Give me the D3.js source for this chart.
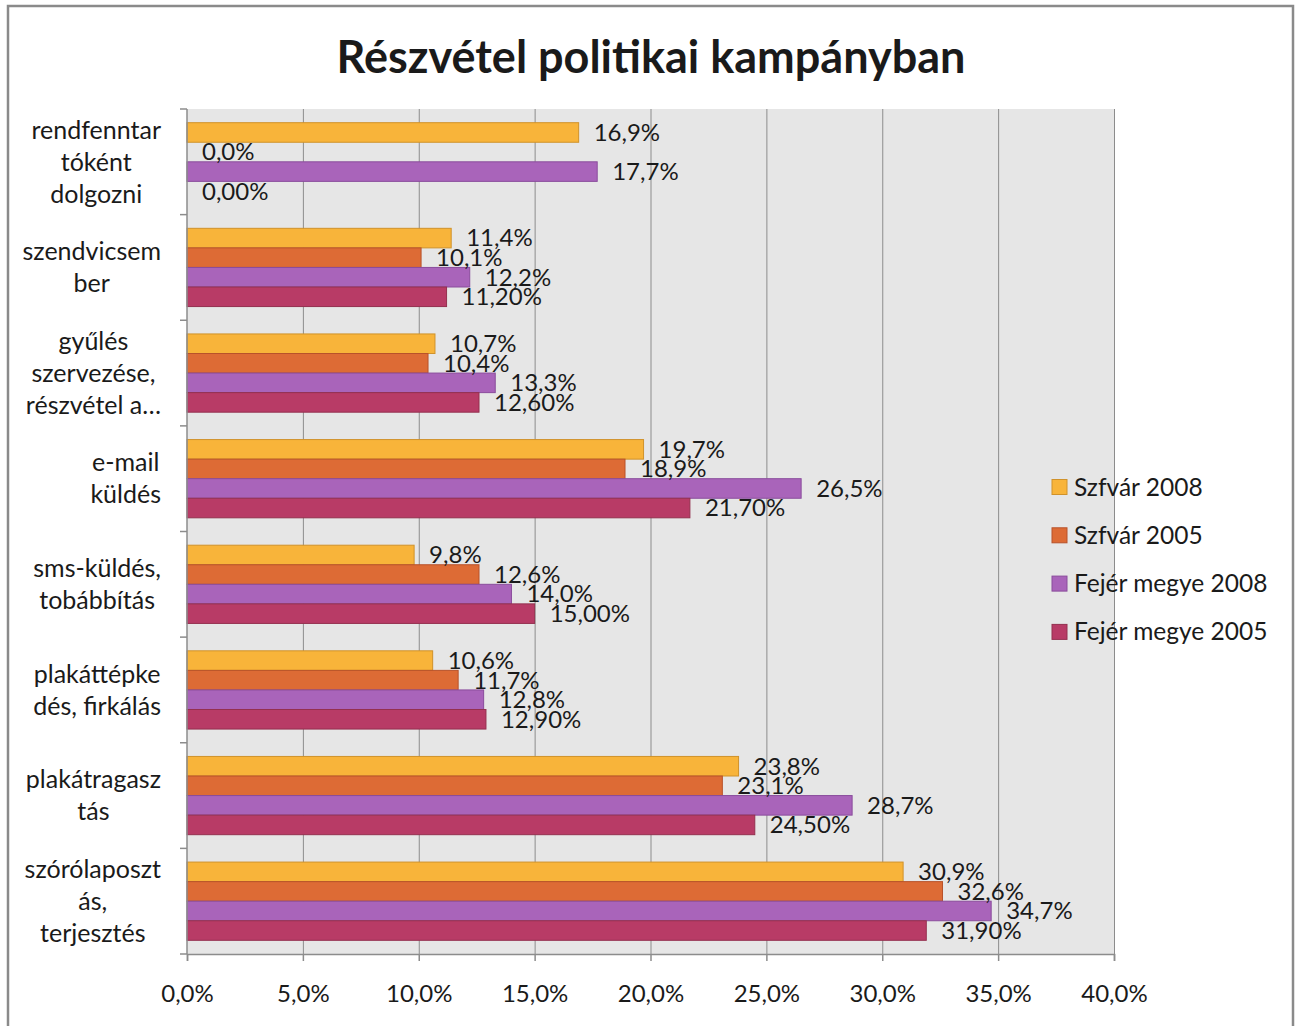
<!DOCTYPE html>
<html>
<head>
<meta charset="utf-8">
<script src="https://cdn.jsdelivr.net/npm/d3@7"></script>
<style>
    body { margin: 0; background: #fff; }
    text { font-family: Lato, "Open Sans", sans-serif; fill: #1a1a1a; }
</style>
</head>
<body>
<div id="chart"></div>
<script>
    // categories, top to bottom, already split the way the labels wrap
    const categories = [
        ["rendfenntar", "tóként", "dolgozni"],
        ["szendvicsem", "ber"],
        ["gyűlés", "szervezése,", "részvétel a…"],
        ["e-mail", "küldés"],
        ["sms-küldés,", "tobábbítás"],
        ["plakáttépke", "dés, firkálás"],
        ["plakátragasz", "tás"],
        ["szórólaposzt", "ás,", "terjesztés"]
    ];
    const seriesNames = ["Szfvár 2008", "Szfvár 2005", "Fejér megye 2008", "Fejér megye 2005"];
    const szfvar2008 = [16.9, 11.4, 10.7, 19.7, 9.8, 10.6, 23.8, 30.9];
    const szfvar2005 = [0.0, 10.1, 10.4, 18.9, 12.6, 11.7, 23.1, 32.6];
    const fejer2008 = [17.7, 12.2, 13.3, 26.5, 14.0, 12.8, 28.7, 34.7];
    const fejer2005 = [0.00, 11.20, 12.60, 21.70, 15.00, 12.90, 24.50, 31.90];
    const labelDecimals = [1, 1, 1, 2];
    const xTicks = [0, 5, 10, 15, 20, 25, 30, 35, 40];

    const seriesValues = [szfvar2008, szfvar2005, fejer2008, fejer2005];
    const fills = ["#f8b43a", "#dd6b35", "#a964ba", "#b83b66"];
    const strokes = ["#d0922a", "#b8522a", "#8a4c9c", "#94304f"];

    const width = 1298, height = 1026;
    const margin = { top: 109, right: 184, bottom: 72, left: 187 };

    const svg = d3.select("#chart").append("svg")
        .attr("width", width)
        .attr("height", height);

    // outer frame
    svg.append("rect")
        .attr("x", 8).attr("y", 6)
        .attr("width", 1285).attr("height", 1040)
        .attr("fill", "#fff")
        .attr("stroke", "#8a8a8a")
        .attr("stroke-width", 2.5);

    svg.append("text")
        .attr("x", 651).attr("y", 73)
        .attr("text-anchor", "middle")
        .style("font-size", "45px")
        .style("font-weight", "bold")
        .text("Részvétel politikai kampányban");

    const x = d3.scaleLinear().domain([0, 40]).range([margin.left, width - margin.right]);
    const y = d3.scaleBand().domain(d3.range(categories.length))
        .range([margin.top, height - margin.bottom]);
    const ys = d3.scaleBand().domain(d3.range(seriesNames.length))
        .range([0, y.bandwidth()]).paddingOuter(0.7);

    // plot background
    svg.append("rect")
        .attr("x", x(0)).attr("y", y.range()[0])
        .attr("width", x(40) - x(0)).attr("height", y.range()[1] - y.range()[0])
        .attr("fill", "#e6e6e6");

    // grid
    svg.append("g")
        .attr("transform", "translate(0," + y.range()[1] + ")")
        .call(d3.axisBottom(x).tickValues(xTicks.slice(1)).tickFormat("").tickSize(-(y.range()[1] - y.range()[0])))
        .call(g => g.select(".domain").remove())
        .call(g => g.selectAll("line").attr("stroke", "#8c8c8c"));

    // bars
    seriesValues.forEach(function (vals, s) {
        svg.append("g").selectAll("rect")
            .data(vals)
            .join("rect")
            .attr("x", x(0))
            .attr("y", (d, i) => y(i) + ys(s))
            .attr("width", d => x(d) - x(0))
            .attr("height", ys.bandwidth())
            .attr("fill", fills[s])
            .attr("stroke", d => d > 0 ? strokes[s] : "none")
            .attr("stroke-width", 1);
    });

    // x axis
    const xAxis = svg.append("g")
        .attr("transform", "translate(0," + y.range()[1] + ")")
        .call(d3.axisBottom(x).tickValues(xTicks).tickSize(7).tickPadding(24)
            .tickFormat(d => d.toFixed(1).replace(".", ",") + "%"));
    xAxis.selectAll("line, path").attr("stroke", "#8c8c8c").attr("stroke-width", 1.5);
    xAxis.selectAll("text").style("font-size", "24px").attr("fill", "#1a1a1a").style("font-family", "Lato, sans-serif");

    // y axis line with ticks at category boundaries
    svg.append("line")
        .attr("x1", x(0)).attr("x2", x(0))
        .attr("y1", y.range()[0]).attr("y2", y.range()[1])
        .attr("stroke", "#8c8c8c").attr("stroke-width", 1.5);
    svg.append("g").selectAll("line")
        .data(d3.range(categories.length + 1))
        .join("line")
        .attr("x1", x(0) - 7).attr("x2", x(0))
        .attr("y1", i => i < categories.length ? y(i) : y.range()[1])
        .attr("y2", i => i < categories.length ? y(i) : y.range()[1])
        .attr("stroke", "#8c8c8c").attr("stroke-width", 1.5);

    // category labels: block right aligned to the axis, lines centred in the block
    const lineH = 32;
    categories.forEach(function (lines, i) {
        const g = svg.append("g");
        const cy = y(i) + y.bandwidth() / 2;
        const texts = lines.map((t, k) => g.append("text")
            .attr("y", cy + (k - (lines.length - 1) / 2) * lineH)
            .attr("dy", "0.35em")
            .attr("text-anchor", "middle")
            .style("font-size", "25px")
            .text(t));
        const maxW = d3.max(texts, t => t.node().getComputedTextLength());
        texts.forEach(t => t.attr("x", 161 - maxW / 2));
    });

    // value labels
    seriesValues.forEach(function (vals, s) {
        svg.append("g").selectAll("text")
            .data(vals)
            .join("text")
            .attr("x", d => x(d) + 15)
            .attr("y", (d, i) => y(i) + ys(s) + ys.bandwidth() / 2)
            .attr("dy", "0.35em")
            .style("font-size", "24px")
            .text(d => d.toFixed(labelDecimals[s]).replace(".", ",") + "%");
    });

    // legend
    const legend = svg.append("g").attr("transform", "translate(1052,487)");
    seriesNames.forEach(function (name, s) {
        const row = legend.append("g").attr("transform", "translate(0," + (s * 48.3) + ")");
        row.append("rect")
            .attr("x", 0).attr("y", -7.5)
            .attr("width", 15).attr("height", 15)
            .attr("fill", fills[s])
            .attr("stroke", strokes[s]);
        row.append("text")
            .attr("x", 22).attr("dy", "0.35em")
            .style("font-size", "24.5px")
            .text(name);
    });
</script>
</body>
</html>
